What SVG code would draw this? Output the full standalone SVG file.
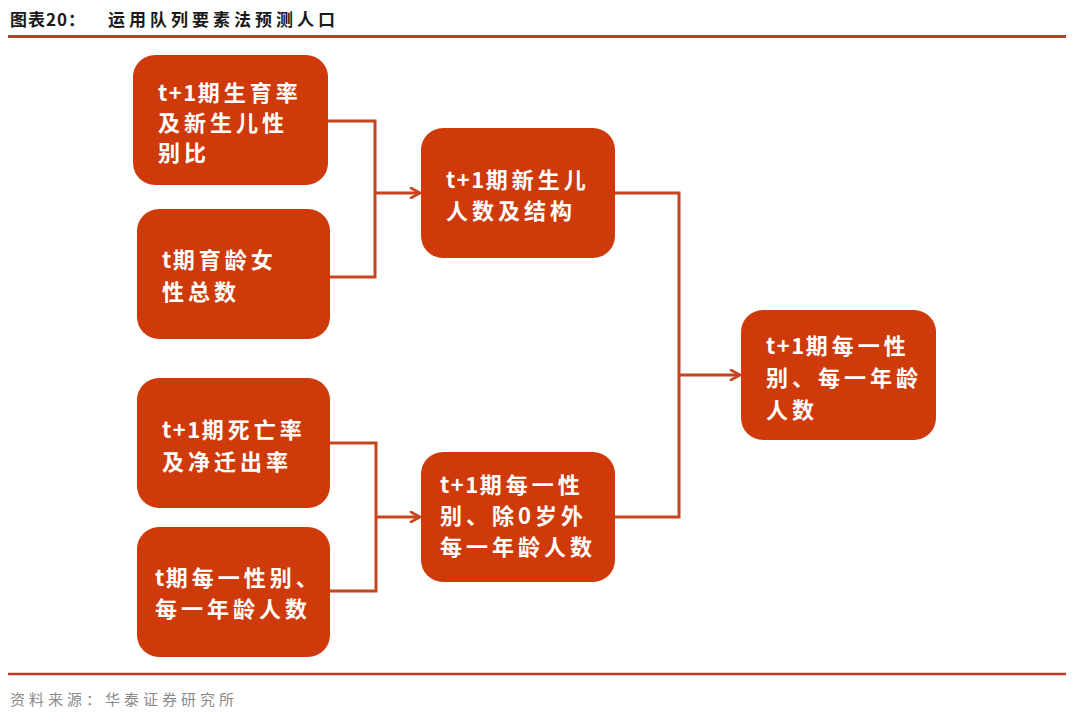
<svg xmlns="http://www.w3.org/2000/svg" width="1080" height="721" viewBox="0 0 1080 721">
<defs>
<style>
.box{fill:#CF3A0A;}
.t{font-family:"Noto Sans CJK SC","Noto Sans",sans-serif;font-weight:bold;font-size:22px;fill:#FFFFFF;letter-spacing:4px;}
.n{letter-spacing:1.5px;}
.c{fill:none;stroke:#C8441C;stroke-width:3;}
.title{font-family:"Noto Sans CJK SC","Noto Sans",sans-serif;font-weight:bold;font-size:17px;fill:#1a1a1a;letter-spacing:4px;}
.src{font-family:"Noto Sans CJK SC","Noto Sans",sans-serif;font-size:15px;fill:#8a8a8a;letter-spacing:4px;}
</style>
<marker id="arr" viewBox="0 0 12 12" refX="11" refY="6" markerWidth="12" markerHeight="12" markerUnits="userSpaceOnUse" orient="auto">
<path d="M2,1 L11,6 L2,11" fill="none" stroke="#C8441C" stroke-width="2.6" stroke-linecap="round"/>
</marker>
</defs>
<rect width="1080" height="721" fill="#FFFFFF"/>
<text class="title" x="10" y="26"><tspan style="letter-spacing:1px">图表20：</tspan></text>
<text class="title" x="108" y="26">运用队列要素法预测人口</text>
<line x1="8" y1="36.5" x2="1066" y2="36.5" stroke="#C0392B" stroke-width="3"/>
<g id="connectors">
<path class="c" d="M328,121 H375 V277 H330"/>
<path class="c" d="M375,193 H420" marker-end="url(#arr)"/>
<path class="c" d="M615,193 H679 V517 H615"/>
<path class="c" d="M679,375 H740" marker-end="url(#arr)"/>
<path class="c" d="M330,443 H376 V591 H330"/>
<path class="c" d="M376,517 H420" marker-end="url(#arr)"/>
</g>
<g id="nodeA">
<rect class="box" x="133" y="55" width="195" height="130" rx="22"/>
<text class="t" x="158" y="101"><tspan class="n">t+1</tspan>期生育率</text>
<text class="t" x="158" y="131">及新生儿性</text>
<text class="t" x="158" y="161">别比</text>
</g>
<g id="nodeB">
<rect class="box" x="137" y="209" width="193" height="130" rx="22"/>
<text class="t" x="162" y="268"><tspan class="n">t</tspan>期育龄女</text>
<text class="t" x="162" y="300">性总数</text>
</g>
<g id="nodeC">
<rect class="box" x="421" y="128" width="194" height="130" rx="22"/>
<text class="t" x="446" y="188"><tspan class="n">t+1</tspan>期新生儿</text>
<text class="t" x="446" y="219">人数及结构</text>
</g>
<g id="nodeD">
<rect class="box" x="137" y="378" width="193" height="130" rx="22"/>
<text class="t" x="162" y="438"><tspan class="n">t+1</tspan>期死亡率</text>
<text class="t" x="162" y="470">及净迁出率</text>
</g>
<g id="nodeE">
<rect class="box" x="137" y="527" width="193" height="130" rx="22"/>
<text class="t" x="155" y="586"><tspan class="n">t</tspan>期每一性别、</text>
<text class="t" x="155" y="617">每一年龄人数</text>
</g>
<g id="nodeF">
<rect class="box" x="421" y="452" width="194" height="130" rx="22"/>
<text class="t" x="440" y="493"><tspan class="n">t+1</tspan>期每一性</text>
<text class="t" x="440" y="524">别、除0岁外</text>
<text class="t" x="440" y="555">每一年龄人数</text>
</g>
<g id="nodeG">
<rect class="box" x="741" y="310" width="195" height="130" rx="22"/>
<text class="t" x="766" y="354"><tspan class="n">t+1</tspan>期每一性</text>
<text class="t" x="766" y="386">别、每一年龄</text>
<text class="t" x="766" y="418">人数</text>
</g>
<line x1="8" y1="674" x2="1066" y2="674" stroke="#C0392B" stroke-width="2.5"/>
<text class="src" x="10" y="705">资料来源：华泰证券研究所</text>
</svg>
